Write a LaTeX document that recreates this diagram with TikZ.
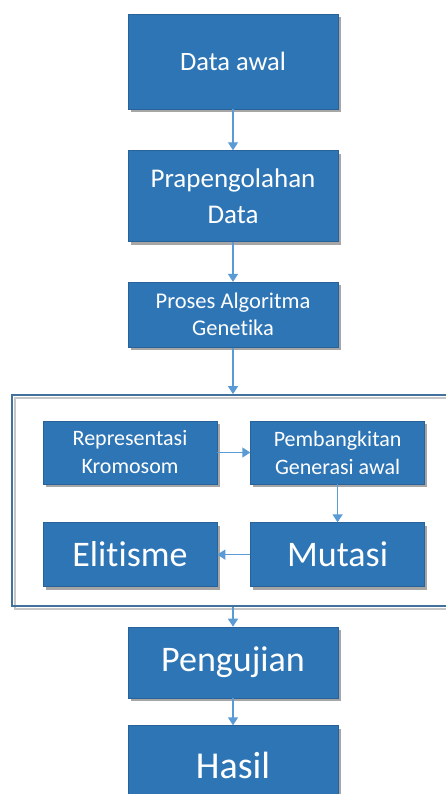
\documentclass[tikz,border=0pt]{standalone}
\usepackage{fontspec}
\setmainfont{Carlito}[Ligatures={NoCommon, NoRequired, NoContextual}]
\usepackage{tikz}
\usepackage{xcolor}
\usetikzlibrary{arrows.meta, positioning, shadows}
\definecolor{cBox}{RGB}{46,117,182}
\definecolor{cEdge}{RGB}{40,98,152}
\definecolor{cArrow}{RGB}{91,155,213}
\definecolor{cFrame}{RGB}{65,113,156}
\tikzset{
	blk/.style      ={rectangle, draw=cEdge, line width=0.6pt, fill=cBox, text=white, align=center, inner sep=2pt,
	                  drop shadow={shadow xshift=2.5pt, shadow yshift=-3pt, fill=black, opacity=0.35}},
	mainblk/.style  ={blk, minimum width=210pt},
	subblk/.style   ={blk, minimum width=174pt, minimum height=63pt},
	frame/.style    ={rectangle, draw=cFrame, line width=1.8pt, inner sep=0pt},
	flowarrow/.style={-{Triangle[length=8pt, width=10pt]}, draw=cArrow, line width=1.4pt},
}
\begin{document}
\begin{tikzpicture}[x=1pt, y=-1pt, node distance=40pt]
	\useasboundingbox (0,0) rectangle (446,794);
	% main column
	\node[mainblk, minimum height=95pt, font=\fontsize{26.5}{31}\selectfont] (awal) at (233,61.5) {Data awal};
	\node[mainblk, minimum height=91pt, font=\fontsize{27}{36}\selectfont, below=41pt of awal] (prap) {Prapengolahan\\Data};
	\node[mainblk, minimum height=65pt, font=\fontsize{22.5}{27}\selectfont, below=of prap] (ag) {Proses Algoritma\\Genetika};
	% genetic algorithm steps
	\node[subblk, font=\fontsize{22}{28}\selectfont] (rep) at (130,452.5) {Representasi\\Kromosom};
	\node[subblk, font=\fontsize{22}{28}\selectfont, right=33pt of rep] (bangkit) {Pembangkitan\\Generasi awal};
	\node[subblk, minimum height=64pt, font=\fontsize{36}{40}\selectfont, below=38pt of rep] (elit) {Elitisme};
	\node[subblk, minimum height=64pt, font=\fontsize{36}{40}\selectfont, right=33pt of elit] (mut) {Mutasi};
	\draw[gray!45, line width=1.4pt] (15,398) rectangle (475,609);
	\node[frame, minimum width=458pt, minimum height=211pt] (box) at (241,500.5) {};
	% testing
	\node[mainblk, minimum height=71pt, font=\fontsize{36}{42}\selectfont] (uji) at (233,662.5) {Pengujian};
	\node[mainblk, minimum height=80pt, font=\fontsize{38}{44}\selectfont, below=27pt of uji] (hasil) {Hasil};
	\draw[flowarrow] (awal) -- (prap);
	\draw[flowarrow] (prap) -- (ag);
	\draw[flowarrow] (ag) -- (ag |- box.north);
	\draw[flowarrow] (rep) -- (bangkit);
	\draw[flowarrow] (bangkit) -- (mut);
	\draw[flowarrow] (mut) -- (elit);
	\draw[flowarrow] (uji |- box.south) -- (uji);
	\draw[flowarrow] (uji) -- (hasil);
\end{tikzpicture}
\end{document}
